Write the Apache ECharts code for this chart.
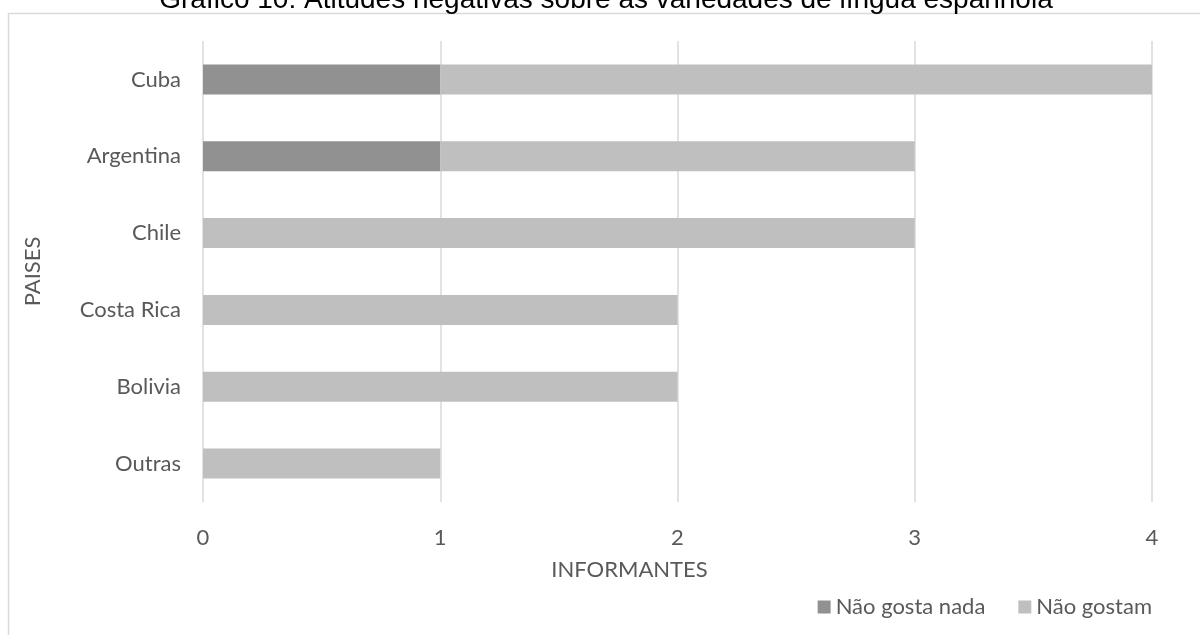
<!DOCTYPE html>
<html>
<head>
<meta charset="utf-8">
<script src="https://cdn.jsdelivr.net/npm/echarts@6/dist/echarts.min.js"></script>
<style>
  html, body { margin: 0; padding: 0; background: #fff; }
  #chart { width: 1200px; height: 635px; }
</style>
</head>
<body>
<div id="chart"></div>
<script>
// Countries, listed top to bottom
const paises = ['Cuba', 'Argentina', 'Chile', 'Costa Rica', 'Bolivia', 'Outras'];
// Number of informants per attitude
const naoGostaNada = [1, 1, 0, 0, 0, 0];
const naoGostam = [3, 2, 3, 2, 2, 1];
const xTicks = [0, 1, 2, 3, 4];

const labelFont = 'Lato, "Open Sans", sans-serif';
const textColor = '#595959';

const chart = echarts.init(document.getElementById('chart'));
chart.setOption({
  animation: false,
  backgroundColor: '#fff',
  graphic: [
    {
      type: 'rect',
      z: -10,
      shape: { x: 8.5, y: 13.5, width: 1300, height: 700 },
      style: { fill: 'none', stroke: '#d9d9d9', lineWidth: 1.5 }
    },
    {
      type: 'text',
      x: 606,
      y: 0,
      style: {
        text: 'Gráfico 10: Atitudes negativas sobre as variedades de língua espanhola',
        font: '28px "Liberation Sans", Arial, sans-serif',
        fill: '#000',
        align: 'center',
        verticalAlign: 'middle'
      }
    }
  ],
  grid: { left: 203, right: 48, top: 41, bottom: 133, containLabel: false },
  legend: {
    right: 43,
    top: 591,
    itemWidth: 13,
    itemHeight: 13,
    itemGap: 33,
    icon: 'rect',
    textStyle: { fontFamily: labelFont, fontSize: 22, color: textColor },
    data: ['Não gosta nada', 'Não gostam']
  },
  xAxis: {
    type: 'value',
    min: xTicks[0],
    max: xTicks[xTicks.length - 1],
    interval: 1,
    name: 'INFORMANTES',
    nameLocation: 'middle',
    nameGap: 57,
    nameTextStyle: { fontFamily: labelFont, fontSize: 22, color: textColor, padding: [0, 96, 0, 0] },
    axisLine: { show: false },
    axisTick: { show: false },
    axisLabel: { margin: 25, fontFamily: labelFont, fontSize: 22, color: textColor },
    splitLine: { show: true, lineStyle: { color: '#d9d9d9', width: 1.5 } }
  },
  yAxis: {
    type: 'category',
    inverse: true,
    data: paises,
    name: 'PAISES',
    nameLocation: 'middle',
    nameGap: 159,
    nameRotate: 90,
    nameTextStyle: { fontFamily: labelFont, fontSize: 22, color: textColor },
    axisLine: { show: false },
    axisTick: { show: false },
    axisLabel: { margin: 22, fontFamily: labelFont, fontSize: 22, color: textColor }
  },
  series: [
    {
      name: 'Não gosta nada',
      type: 'bar',
      stack: 'total',
      data: naoGostaNada,
      barWidth: 30,
      itemStyle: { color: '#919191' }
    },
    {
      name: 'Não gostam',
      type: 'bar',
      stack: 'total',
      data: naoGostam,
      barWidth: 30,
      itemStyle: { color: '#bfbfbf' }
    }
  ]
});
</script>
</body>
</html>
